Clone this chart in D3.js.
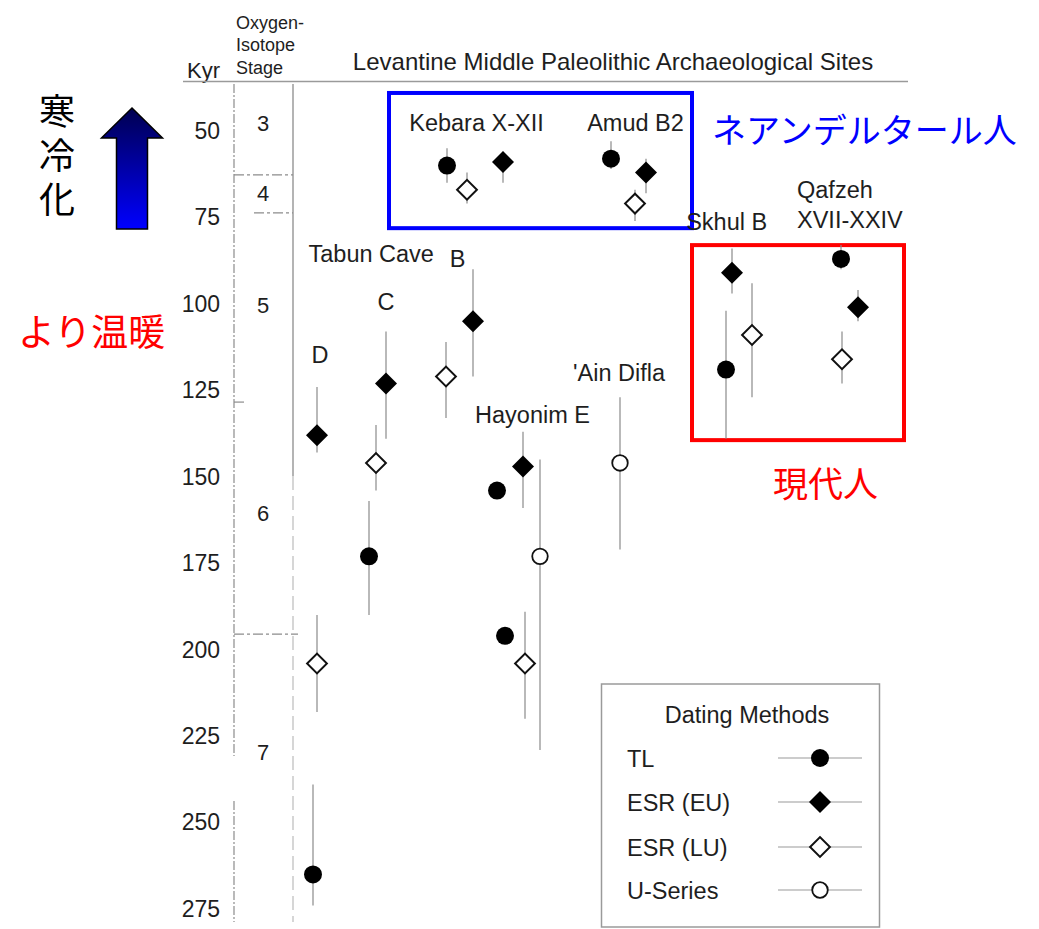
<!DOCTYPE html>
<html>
<head>
<meta charset="utf-8">
<script src="https://cdn.jsdelivr.net/npm/d3@7"></script>
<style>
  body { margin: 0; background: #fff; }
  svg { display: block; }
</style>
</head>
<body>
<svg id="chart" width="1039" height="929"></svg>
<script>
// ---- Data -------------------------------------------------------------
// Age axis (thousands of years ago)
const ageTicks = [50, 75, 100, 125, 150, 175, 200, 225, 250, 275];

// Oxygen-isotope stages: label, mid-age for the label, boundaries between them
const stageNames = ["3", "4", "5", "6", "7"];
const stageMidAges = [47.7, 67.9, 100.3, 160.5, 229.6];
const stageBoundaries = [62.7, 73.7, 128.4, 195.5];

const methods = ["TL", "ESR (EU)", "ESR (LU)", "U-Series"];

// Each date: [site, column, age, lower bound, upper bound]
const tlDates = [
  ["Kebara X-XII", 14.7, 60, 55, 65],
  ["Amud B2", 31.1, 58, 53, 61],
  ["Tabun D", 1.3, 265, 239, 274],
  ["Tabun C", 6.9, 173, 157, 190],
  ["Hayonim E", 19.7, 154, null, null],
  ["Hayonim E", 20.5, 196, null, null],
  ["Skhul B", 42.6, 119, 102, 139],
  ["Qafzeh XVII-XXIV", 54.1, 87, 83, 90]
];
const esrEuDates = [
  ["Kebara X-XII", 20.3, 59, 56, 65],
  ["Amud B2", 34.6, 62, 58, 68],
  ["Tabun D", 1.7, 138, 124, 143],
  ["Tabun C", 8.6, 123, 108, 139],
  ["Tabun B", 17.3, 105, 90, 121],
  ["Hayonim E", 22.3, 147, 137, 159],
  ["Skhul B", 43.2, 91, 84, 97],
  ["Qafzeh XVII-XXIV", 55.8, 101, 96, 105]
];
const esrLuDates = [
  ["Kebara X-XII", 16.7, 67, 62, 71],
  ["Amud B2", 33.5, 71, 67, 76],
  ["Tabun D", 1.7, 204, 190, 218],
  ["Tabun C", 7.6, 146, 135, 154],
  ["Tabun B", 14.6, 121, 111, 133],
  ["Hayonim E", 22.5, 204, 189, 220],
  ["Skhul B", 45.2, 109, 94, 127],
  ["Qafzeh XVII-XXIV", 54.2, 116, 108, 123]
];
const uSeriesDates = [
  ["Hayonim E", 24.0, 173, 145, 229],
  ["'Ain Difla", 32.0, 146, 127, 171]
];

// Site captions: [text, column, age at baseline, anchor]
const siteLabels = [
  ["Kebara X-XII", 17.65, 49.9, "middle"],
  ["Amud B2", 33.55, 49.9, "middle"],
  ["Tabun Cave", 0.85, 87.9, "start"],
  ["B", 15.77, 89.3, "middle"],
  ["C", 8.6, 101.8, "middle"],
  ["D", 2.0, 117.1, "middle"],
  ["Hayonim E", 23.25, 134.4, "middle"],
  ["'Ain Difla", 31.9, 122.3, "middle"],
  ["Skhul B", 42.67, 78.6, "middle"],
  ["Qafzeh", 49.7, 69.4, "start"],
  ["XVII-XXIV", 49.7, 78.1, "start"]
];

// Highlight groups: [x0, x1, age0, age1]
const neanderthalGroup = [8.9, 39.2, 39.0, 78.1];
const modernGroup = [39.2, 60.4, 83.0, 139.4];

// ---- Layout -----------------------------------------------------------
const svg = d3.select("#chart");
const FONT = "'Liberation Sans', Arial, Helvetica, sans-serif";
const CJK = "'Noto Sans CJK JP', 'Noto Sans CJK SC', sans-serif";
const INK = "#1e1e1e";

const y = d3.scaleLinear().domain([50, 275]).range([131, 909]);
const x = d3.scaleLinear().domain([0, 60]).range([300, 900]);

svg.append("rect").attr("width", 1039).attr("height", 929).attr("fill", "#fff");

// Header
const hdr = svg.append("g").attr("font-family", FONT).attr("fill", INK);
hdr.append("text").attr("x", 220).attr("y", 78).attr("text-anchor", "end")
  .attr("font-size", 22).text("Kyr");
["Oxygen-", "Isotope", "Stage"].forEach((t, i) => {
  hdr.append("text").attr("x", 236).attr("y", [29, 51, 74][i])
    .attr("font-size", 18).text(t);
});
hdr.append("text").attr("x", 613).attr("y", 70).attr("text-anchor", "middle")
  .attr("font-size", 24).text("Levantine Middle Paleolithic Archaeological Sites");
svg.append("line").attr("x1", 183).attr("x2", 908).attr("y1", 81.5).attr("y2", 81.5)
  .attr("stroke", "#9a9a9a").attr("stroke-width", 1.5);

// Age axis (labels only)
const axis = svg.append("g").attr("transform", "translate(220,0)")
  .call(d3.axisLeft(y).tickValues(ageTicks).tickSize(0).tickPadding(0));
axis.select(".domain").remove();
axis.selectAll("text").attr("font-family", FONT).attr("font-size", 23).attr("fill", INK);

// Isotope-stage column
const colL = 234, colR = 293;
const stageG = svg.append("g").attr("stroke", "#8c8c8c").attr("fill", "none");
stageG.append("line").attr("x1", colL).attr("x2", colL).attr("y1", 84).attr("y2", 756)
  .attr("stroke-width", 1.2).attr("stroke-dasharray", "9 2 2 2");
stageG.append("line").attr("x1", colL).attr("x2", colL).attr("y1", 801).attr("y2", 922)
  .attr("stroke-width", 1.2).attr("stroke-dasharray", "9 2 2 2");
stageG.append("line").attr("x1", colR).attr("x2", colR).attr("y1", 84).attr("y2", 476)
  .attr("stroke-width", 1.3);
stageG.append("line").attr("x1", colR).attr("x2", colR).attr("y1", 476).attr("y2", 922)
  .attr("stroke-width", 1.1).attr("stroke", "#b5b5b5").attr("stroke-dasharray", "14 6");
const boundaryExtent = [[colL, colR], [colL + 20, colR], [colL, colL + 13], [colL, colR + 5]];
stageG.selectAll("line.bnd").data(stageBoundaries).join("line").attr("class", "bnd")
  .attr("x1", (d, i) => boundaryExtent[i][0]).attr("x2", (d, i) => boundaryExtent[i][1])
  .attr("y1", d => y(d)).attr("y2", d => y(d))
  .attr("stroke-width", 1.2).attr("stroke-dasharray", "10 3 3 3");
svg.append("g").attr("font-family", FONT).attr("font-size", 22).attr("fill", INK)
  .selectAll("text").data(stageNames).join("text")
  .attr("x", 263).attr("y", (d, i) => y(stageMidAges[i]))
  .attr("dy", "0.35em").attr("text-anchor", "middle").text(d => d);

// Highlight boxes
svg.append("rect")
  .attr("x", x(neanderthalGroup[0])).attr("y", y(neanderthalGroup[2]))
  .attr("width", x(neanderthalGroup[1]) - x(neanderthalGroup[0]))
  .attr("height", y(neanderthalGroup[3]) - y(neanderthalGroup[2]))
  .attr("fill", "none").attr("stroke", "#0000ff").attr("stroke-width", 4);
svg.append("rect")
  .attr("x", x(modernGroup[0])).attr("y", y(modernGroup[2]))
  .attr("width", x(modernGroup[1]) - x(modernGroup[0]))
  .attr("height", y(modernGroup[3]) - y(modernGroup[2]))
  .attr("fill", "none").attr("stroke", "#ff0000").attr("stroke-width", 4);

// Site captions
svg.append("g").attr("font-family", FONT).attr("font-size", 23.5).attr("fill", INK)
  .selectAll("text").data(siteLabels).join("text")
  .attr("x", d => x(d[1])).attr("y", d => y(d[2]))
  .attr("text-anchor", d => d[3]).text(d => d[0]);

// Symbols per dating method
const symbolFor = {
  "TL":       { type: d3.symbolCircle, size: 254, fill: "#000", stroke: "none", sw: 0, rot: 0 },
  "ESR (EU)": { type: d3.symbolSquare, size: 242, fill: "#000", stroke: "none", sw: 0, rot: 45 },
  "ESR (LU)": { type: d3.symbolSquare, size: 196, fill: "#fff", stroke: "#111", sw: 2, rot: 45 },
  "U-Series": { type: d3.symbolCircle, size: 190, fill: "#fff", stroke: "#111", sw: 1.8, rot: 0 }
};
const series = [tlDates, esrEuDates, esrLuDates, uSeriesDates];

const bars = svg.append("g").attr("stroke", "#8a8a8a").attr("stroke-width", 1.2);
const marks = svg.append("g");
series.forEach((rows, k) => {
  const s = symbolFor[methods[k]];
  bars.selectAll(null).data(rows.filter(r => r[3] != null)).join("line")
    .attr("x1", r => x(r[1])).attr("x2", r => x(r[1]))
    .attr("y1", r => y(r[3])).attr("y2", r => y(r[4]));
  marks.selectAll(null).data(rows).join("path")
    .attr("transform", r => `translate(${x(r[1])},${y(r[2])}) rotate(${s.rot})`)
    .attr("d", d3.symbol().type(s.type).size(s.size))
    .attr("fill", s.fill).attr("stroke", s.stroke).attr("stroke-width", s.sw);
});

// Legend
const lg = svg.append("g").attr("font-family", FONT).attr("fill", INK);
lg.append("rect").attr("x", 601.5).attr("y", 684).attr("width", 278).attr("height", 243)
  .attr("fill", "none").attr("stroke", "#9a9a9a").attr("stroke-width", 1.5);
lg.append("text").attr("x", 747).attr("y", 723).attr("text-anchor", "middle")
  .attr("font-size", 23.5).text("Dating Methods");
const rowY = [759, 803, 848, 891];
methods.forEach((m, i) => {
  const s = symbolFor[m];
  lg.append("text").attr("x", 627).attr("y", rowY[i]).attr("dy", "0.36em")
    .attr("font-size", 23.5).text(m);
  lg.append("line").attr("x1", 778).attr("x2", 862).attr("y1", rowY[i] - 1).attr("y2", rowY[i] - 1)
    .attr("stroke", "#9a9a9a").attr("stroke-width", 1.2);
  lg.append("path")
    .attr("transform", `translate(820,${rowY[i] - 1}) rotate(${s.rot})`)
    .attr("d", d3.symbol().type(s.type).size(s.size))
    .attr("fill", s.fill).attr("stroke", s.stroke).attr("stroke-width", s.sw);
});

// Japanese annotations
const defs = svg.append("defs");
const grad = defs.append("linearGradient").attr("id", "coolGrad")
  .attr("x1", 0).attr("y1", 0).attr("x2", 0).attr("y2", 1);
grad.append("stop").attr("offset", "0%").attr("stop-color", "#000050");
grad.append("stop").attr("offset", "100%").attr("stop-color", "#0000ff");
svg.append("path")
  .attr("d", "M132,108 L162.5,138 L147.5,138 L147.5,229 L116.5,229 L116.5,138 L101.5,138 Z")
  .attr("fill", "url(#coolGrad)").attr("stroke", "#000").attr("stroke-width", 1.5);

const jp = svg.append("g").attr("font-family", CJK);
// vertical caption: "cooling" reads top to bottom beside the arrow
jp.append("text").attr("x", 57).attr("y", 93)
  .style("writing-mode", "vertical-rl")
  .attr("letter-spacing", 8)
  .attr("font-size", 36).attr("fill", "#000").text("寒冷化");
jp.append("text").attr("x", 18).attr("y", 330).attr("dominant-baseline", "central")
  .attr("font-size", 37).attr("fill", "#ff0000").text("より温暖");
jp.append("text").attr("x", 712).attr("y", 128).attr("dominant-baseline", "central")
  .attr("font-size", 34).attr("fill", "#0000ff").text("ネアンデルタール人");
jp.append("text").attr("x", 773).attr("y", 481).attr("dominant-baseline", "central")
  .attr("font-size", 35).attr("fill", "#ff0000").text("現代人");
</script>
</body>
</html>
